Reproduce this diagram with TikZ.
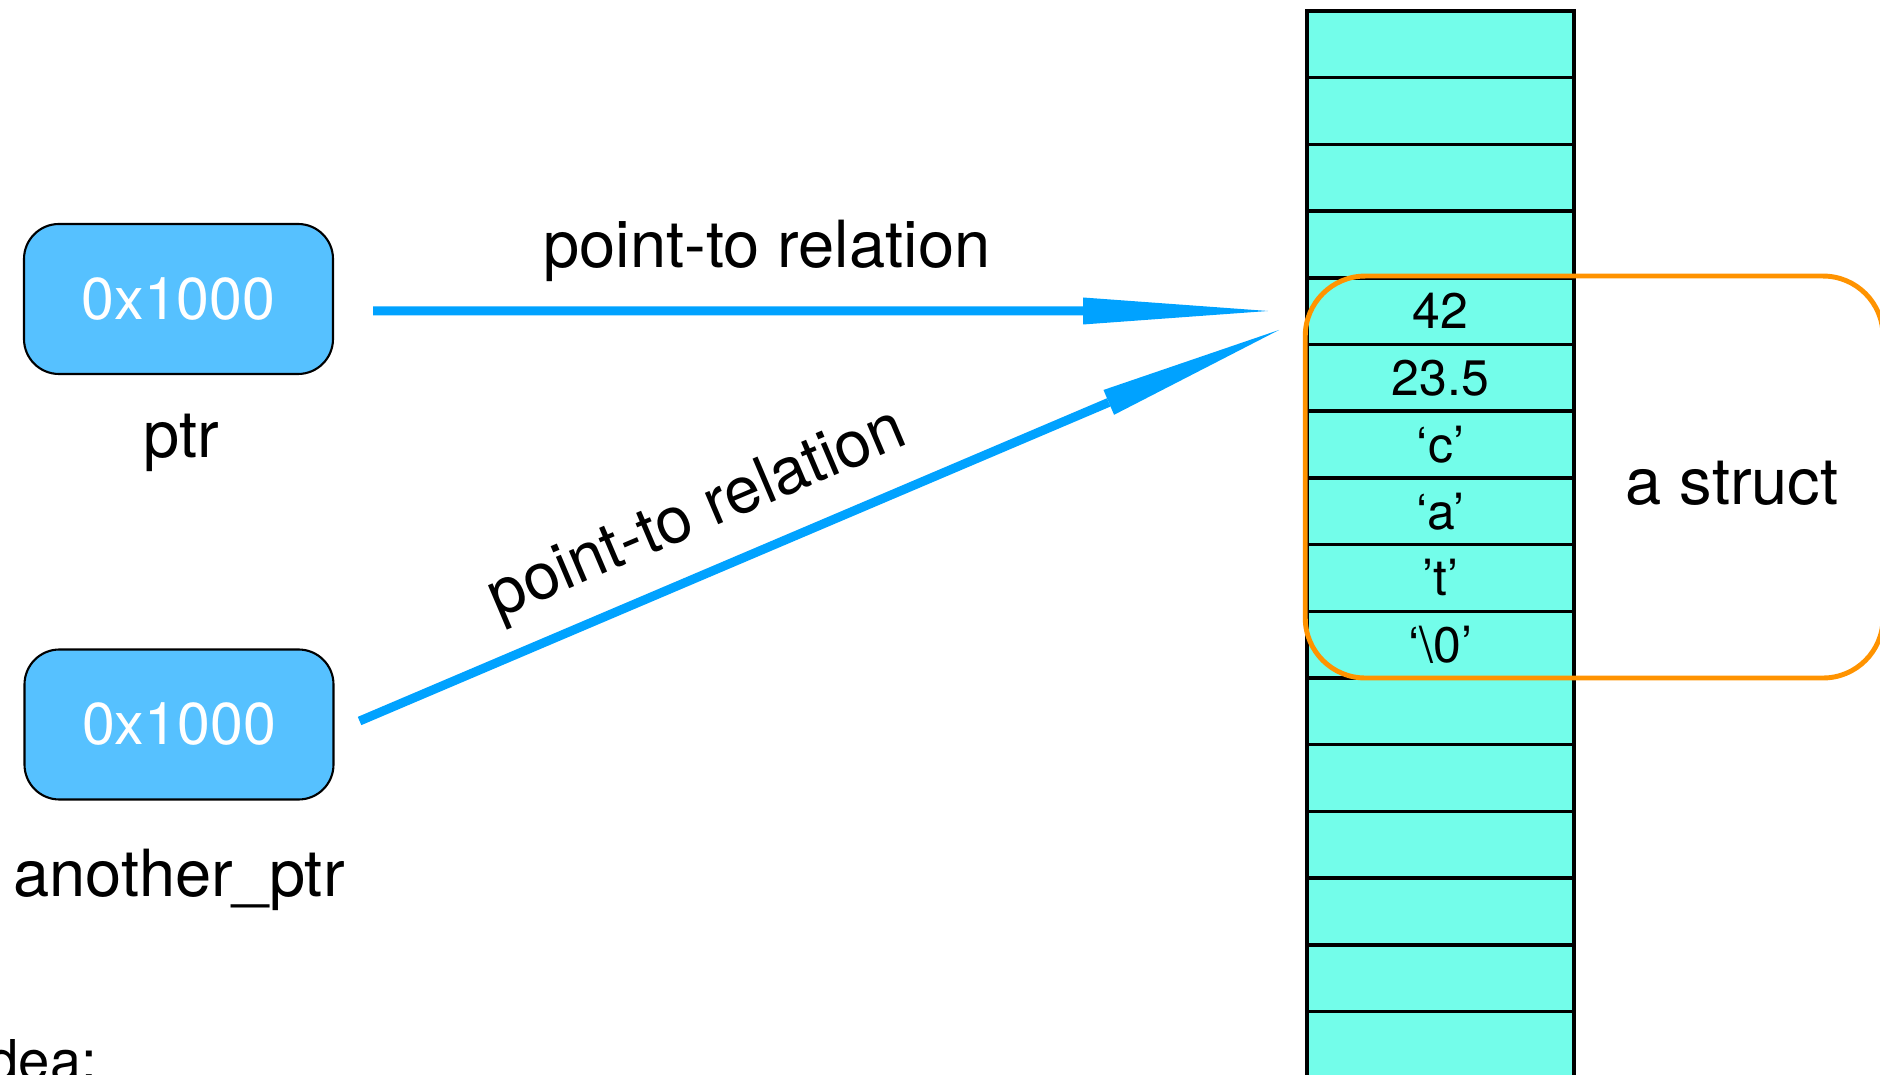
\documentclass[tikz,border=0pt]{standalone}
\usepackage{fontspec}
\setmainfont{TeX Gyre Heros}
\usetikzlibrary{arrows.meta,positioning}
\definecolor{ptrblue}{RGB}{86,193,255}
\definecolor{arrowblue}{RGB}{0,162,255}
\definecolor{memcyan}{RGB}{115,253,234}
\definecolor{structorange}{RGB}{255,147,0}

\begin{document}
\begin{tikzpicture}[
  addr/.style={draw=black, line width=0.6pt, fill=ptrblue, rounded corners=3.5mm,
    minimum width=3.09cm, minimum height=1.5cm, text=white,
    font=\fontsize{16.8}{20}\selectfont},
  memcell/.style={draw=black, line width=1pt, fill=memcyan, inner sep=0pt,
    minimum width=2.67cm, minimum height=0.667cm, font=\fontsize{14.2}{17}\selectfont},
  lbl/.style={inner sep=0pt, font=\fontsize{18.5}{22}\selectfont},
  ptrarrow/.style={draw=arrowblue, line width=2.56pt,
    -{Triangle[length=18.5mm,width=2.7mm,line width=0pt]}},
  structframe/.style={draw=structorange, line width=1.4pt, rounded corners=6mm}
]
\useasboundingbox (0,0) rectangle (18.8,10.74);

% memory column
\foreach \v [count=\i from 0] in {{},{},{},{},42,23.5,‘c’,‘a’,’t’,‘\textbackslash 0’,{},{},{},{},{},{}} {
  \node[memcell] (m\i) at (14.405,{10.2965-0.667*\i}) {\v};
}

% the struct
\draw[structframe] (m4.north west) rectangle (18.83,3.96);
\node[lbl, anchor=base] (structname) at (17.32,5.69) {a struct};

% pointers
\node[addr] (ptr) at (1.785,7.75) {0x1000};
\node[lbl, anchor=base] (ptrname) at (1.81,6.16) {ptr};
\node[addr] (aptr) at (1.79,3.495) {0x1000};
\node[lbl, anchor=base] (aptrname) at (1.79,1.77) {another\_ptr};

\coordinate (tip1) at (12.68,7.63);
\coordinate (tip2) at (12.79,7.44);
\draw[ptrarrow] ([xshift=3.9mm,yshift=-1.2mm]ptr.east) -- node[lbl, pos=0.44, above=2.5mm] (rel1) {point-to relation} (tip1);
\draw[ptrarrow] ([xshift=2.5mm,yshift=0.35mm]aptr.east) -- node[lbl, pos=0.392, above=2.1mm, sloped] (rel2) {point-to relation} (tip2);

\node[lbl, anchor=base west, font=\fontsize{16}{19}\selectfont] (idea) at (-0.13,-0.06) {dea:};
\end{tikzpicture}
\end{document}
